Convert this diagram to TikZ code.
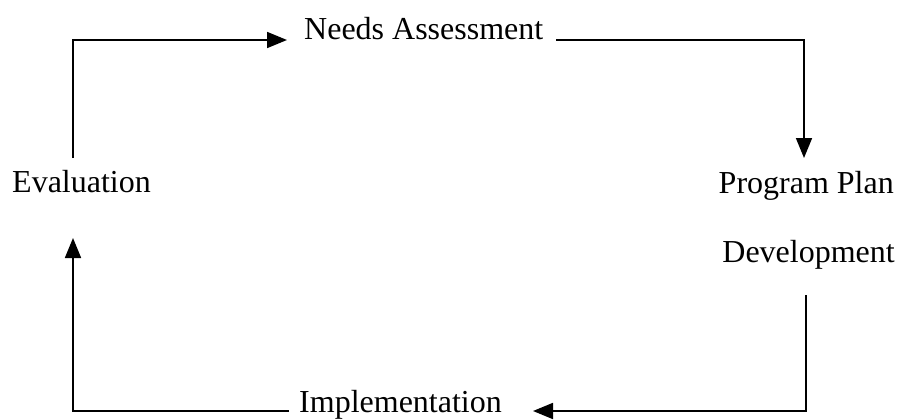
\documentclass[tikz,border=0pt]{standalone}
\usepackage{fontspec}
\setmainfont{Liberation Serif}
\usetikzlibrary{arrows.meta}
\begin{document}
\begin{tikzpicture}[x=1pt,y=-1pt,
  lbl/.style={inner sep=0pt,font=\fontsize{32}{38}\selectfont},
  conn/.style={line width=1.7pt},
  arr/.style={conn,-{Triangle[length=20pt,width=16pt]}}]
\useasboundingbox (0,0) rectangle (899,420);
\node[lbl,anchor=base west] (needs) at (304,40) {Needs Assessment};
\node[lbl,anchor=base west] (eval) at (12,192) {Evaluation};
\node[lbl,anchor=base east] (plan) at (894,193) {Program Plan};
\node[lbl,anchor=base east] (dev) at (895,262) {Development};
\node[lbl,anchor=base west] (impl) at (299,412) {Implementation};
\coordinate (c1) at (73,158);
\coordinate (c2) at (287,40);
\coordinate (c3) at (556,40);
\coordinate (c4) at (804,158);
\coordinate (c5) at (806,295);
\coordinate (c6) at (533,411);
\coordinate (c7) at (289,411);
\coordinate (c8) at (73,238);
\draw[arr] (c1) |- (c2);
\draw[arr] (c3) -| (c4);
\draw[arr] (c5) |- (c6);
\draw[arr] (c7) -| (c8);
\end{tikzpicture}
\end{document}
